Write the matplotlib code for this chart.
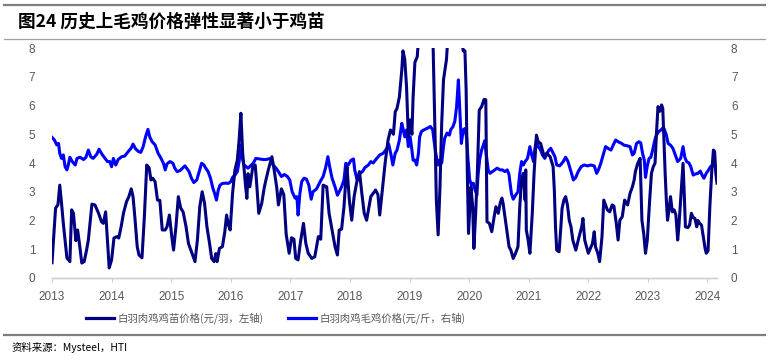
import matplotlib
matplotlib.use("Agg")
import matplotlib.pyplot as plt
from matplotlib.lines import Line2D

# 白羽肉鸡鸡苗价格 (元/羽, 左轴)
chick_years = [
    2013.00, 2013.06, 2013.10, 2013.13, 2013.16, 2013.19, 2013.22, 2013.25, 2013.30, 2013.33,
    2013.36, 2013.40, 2013.43, 2013.46, 2013.50, 2013.54, 2013.58, 2013.61, 2013.67, 2013.72,
    2013.78, 2013.83, 2013.86, 2013.90, 2013.93, 2013.96, 2014.00, 2014.04, 2014.09, 2014.12,
    2014.16, 2014.20, 2014.25, 2014.29, 2014.33, 2014.36, 2014.39, 2014.43, 2014.46, 2014.51,
    2014.55, 2014.59, 2014.63, 2014.66, 2014.69, 2014.73, 2014.77, 2014.81, 2014.85, 2014.90,
    2014.93, 2014.97, 2015.01, 2015.04, 2015.08, 2015.12, 2015.16, 2015.20, 2015.25, 2015.29,
    2015.34, 2015.40, 2015.44, 2015.48, 2015.52, 2015.56, 2015.60, 2015.64, 2015.68, 2015.72,
    2015.75, 2015.77, 2015.81, 2015.86, 2015.90, 2015.93, 2015.96, 2015.99, 2016.03, 2016.07,
    2016.11, 2016.14, 2016.17, 2016.20, 2016.22, 2016.25, 2016.27, 2016.29, 2016.32, 2016.37,
    2016.41, 2016.43, 2016.47, 2016.52, 2016.56, 2016.59, 2016.63, 2016.69, 2016.72, 2016.77,
    2016.80, 2016.85, 2016.89, 2016.93, 2016.98, 2017.02, 2017.06, 2017.09, 2017.13, 2017.17,
    2017.22, 2017.26, 2017.30, 2017.36, 2017.41, 2017.47, 2017.51, 2017.55, 2017.61, 2017.65,
    2017.69, 2017.75, 2017.79, 2017.82, 2017.86, 2017.90, 2017.93, 2017.95, 2017.99, 2018.03,
    2018.07, 2018.11, 2018.16, 2018.20, 2018.24, 2018.28, 2018.35, 2018.43, 2018.47, 2018.50,
    2018.55, 2018.59, 2018.64, 2018.68, 2018.73, 2018.76, 2018.79, 2018.83, 2018.87, 2018.89,
    2018.92, 2018.95, 2018.98, 2019.01, 2019.04, 2019.06, 2019.09, 2019.13, 2019.16, 2019.26,
    2019.39, 2019.43, 2019.45, 2019.48, 2019.51, 2019.54, 2019.57, 2019.62, 2019.65, 2019.76,
    2019.87, 2019.90, 2019.93, 2019.95, 2019.97, 2019.99, 2020.03, 2020.06, 2020.08, 2020.11,
    2020.14, 2020.17, 2020.21, 2020.25, 2020.28, 2020.29, 2020.30, 2020.34, 2020.38, 2020.42,
    2020.45, 2020.49, 2020.52, 2020.55, 2020.57, 2020.61, 2020.64, 2020.67, 2020.70, 2020.74,
    2020.78, 2020.82, 2020.85, 2020.88, 2020.91, 2020.94, 2020.95, 2020.96, 2020.99, 2021.02,
    2021.06, 2021.09, 2021.13, 2021.16, 2021.20, 2021.23, 2021.26, 2021.30, 2021.33, 2021.36,
    2021.41, 2021.43, 2021.45, 2021.47, 2021.51, 2021.54, 2021.56, 2021.59, 2021.62, 2021.65,
    2021.68, 2021.71, 2021.74, 2021.79, 2021.86, 2021.89, 2021.91, 2021.94, 2022.00, 2022.07,
    2022.10, 2022.12, 2022.16, 2022.19, 2022.23, 2022.26, 2022.29, 2022.32, 2022.36, 2022.40,
    2022.43, 2022.47, 2022.50, 2022.53, 2022.57, 2022.61, 2022.66, 2022.70, 2022.74, 2022.77,
    2022.79, 2022.83, 2022.87, 2022.88, 2022.90, 2022.93, 2022.96, 2022.99, 2023.03, 2023.06,
    2023.09, 2023.12, 2023.15, 2023.17, 2023.20, 2023.23, 2023.25, 2023.27, 2023.29, 2023.31,
    2023.33, 2023.35, 2023.38, 2023.41, 2023.44, 2023.47, 2023.50, 2023.52, 2023.55, 2023.58,
    2023.59, 2023.61, 2023.63, 2023.67, 2023.70, 2023.73, 2023.76, 2023.79, 2023.82, 2023.84,
    2023.87, 2023.90, 2023.93, 2023.96, 2023.98, 2024.01, 2024.04, 2024.07, 2024.10, 2024.12,
    2024.14, 2024.16,
]
chick_price = [
    0.53, 2.43, 2.55, 3.23, 2.60, 1.90, 1.30, 0.70, 0.57, 2.37,
    2.25, 1.30, 1.67, 1.20, 0.52, 0.57, 0.97, 1.32, 2.57, 2.54,
    2.26, 1.96, 1.90, 2.30, 1.32, 0.35, 0.63, 1.39, 1.44, 1.39,
    1.78, 2.26, 2.65, 2.83, 3.10, 2.83, 2.13, 1.09, 0.80, 0.70,
    2.13, 3.93, 3.83, 3.41, 3.47, 3.35, 2.71, 2.70, 1.67, 1.67,
    1.78, 2.19, 1.44, 0.97, 1.78, 2.83, 2.43, 2.30, 1.78, 1.20,
    0.91, 0.57, 1.32, 2.48, 3.00, 2.60, 1.78, 1.26, 0.68, 0.57,
    0.85, 0.57, 1.03, 1.09, 1.61, 2.19, 1.85, 1.67, 2.94, 3.76,
    4.10, 4.80, 5.73, 4.34, 3.87, 3.17, 2.77, 3.63, 3.17, 3.87,
    3.93, 3.41, 2.25, 2.60, 3.12, 3.41, 3.76, 4.22, 3.87, 3.17,
    2.54, 3.10, 2.90, 1.52, 0.86, 1.40, 1.35, 0.68, 0.63, 1.26,
    1.90, 1.20, 0.86, 0.68, 0.74, 1.44, 1.35, 3.23, 3.17, 2.25,
    1.78, 1.09, 0.80, 1.67, 1.70, 2.48, 3.41, 3.87, 2.71, 2.01,
    2.83, 3.29, 3.70, 2.94, 2.25, 2.01, 2.83, 3.06, 2.90, 2.19,
    3.17, 3.99, 4.80, 5.15, 5.00, 5.78, 5.90, 6.30, 7.23, 7.90,
    7.60, 6.65, 4.91, 5.50, 5.00, 6.30, 7.50, 7.70, 8.60, 10.0,
    8.60, 4.80, 2.71, 1.50, 3.10, 5.38, 6.89, 7.60, 8.60, 10.0,
    8.60, 7.90, 7.90, 6.54, 3.64, 1.55, 3.17, 2.48, 1.03, 2.25,
    3.76, 5.84, 5.96, 6.21, 6.20, 4.22, 1.96, 1.90, 1.61, 2.13,
    2.48, 2.25, 2.60, 2.78, 2.60, 2.01, 1.55, 1.09, 0.97, 0.68,
    0.86, 1.09, 2.48, 3.41, 3.64, 2.71, 3.76, 1.67, 1.32, 0.86,
    2.25, 3.64, 4.97, 4.74, 4.68, 4.45, 4.22, 4.34, 4.28, 4.22,
    3.87, 3.06, 1.78, 0.97, 0.91, 1.78, 2.42, 2.71, 2.83, 2.54,
    2.01, 1.78, 1.32, 0.97, 1.55, 1.78, 2.07, 1.32, 0.86, 1.20,
    1.61, 1.09, 0.86, 0.57, 1.44, 2.71, 2.54, 2.37, 2.30, 2.54,
    2.50, 1.90, 1.32, 2.01, 2.13, 2.71, 2.54, 2.94, 3.17, 3.41,
    3.70, 3.99, 4.16, 3.41, 2.01, 1.55, 0.86, 1.32, 2.71, 3.64,
    3.87, 3.99, 5.26, 5.96, 5.80, 6.02, 5.90, 4.80, 3.64, 2.71,
    2.01, 2.30, 2.83, 2.30, 2.37, 2.20, 1.32, 1.78, 2.71, 3.64,
    3.99, 2.94, 1.78, 1.75, 1.84, 2.25, 2.10, 2.07, 1.78, 2.00,
    1.90, 1.84, 1.44, 1.03, 0.86, 0.95, 2.48, 3.64, 4.45, 4.40,
    3.64, 3.30,
]

# 白羽肉鸡毛鸡价格 (元/斤, 右轴)
broiler_years = [
    2013.00, 2013.04, 2013.08, 2013.11, 2013.13, 2013.16, 2013.19, 2013.22, 2013.25, 2013.27,
    2013.30, 2013.34, 2013.39, 2013.42, 2013.47, 2013.53, 2013.57, 2013.61, 2013.65, 2013.69,
    2013.75, 2013.79, 2013.84, 2013.89, 2013.93, 2013.97, 2014.00, 2014.03, 2014.07, 2014.11,
    2014.17, 2014.22, 2014.28, 2014.33, 2014.36, 2014.40, 2014.45, 2014.49, 2014.53, 2014.57,
    2014.61, 2014.64, 2014.68, 2014.73, 2014.78, 2014.83, 2014.87, 2014.90, 2014.93, 2014.98,
    2015.03, 2015.06, 2015.10, 2015.15, 2015.19, 2015.23, 2015.26, 2015.30, 2015.34, 2015.38,
    2015.43, 2015.47, 2015.51, 2015.55, 2015.58, 2015.62, 2015.66, 2015.70, 2015.73, 2015.76,
    2015.79, 2015.82, 2015.86, 2015.92, 2015.96, 2016.00, 2016.03, 2016.07, 2016.11, 2016.14,
    2016.17, 2016.19, 2016.22, 2016.26, 2016.29, 2016.33, 2016.38, 2016.42, 2016.48, 2016.55,
    2016.59, 2016.63, 2016.67, 2016.71, 2016.76, 2016.80, 2016.85, 2016.90, 2016.95, 2016.99,
    2017.03, 2017.08, 2017.11, 2017.13, 2017.16, 2017.19, 2017.23, 2017.27, 2017.31, 2017.35,
    2017.38, 2017.44, 2017.50, 2017.55, 2017.59, 2017.63, 2017.66, 2017.70, 2017.75, 2017.79,
    2017.82, 2017.86, 2017.90, 2017.93, 2017.97, 2018.02, 2018.06, 2018.08, 2018.12, 2018.17,
    2018.21, 2018.25, 2018.31, 2018.35, 2018.39, 2018.45, 2018.50, 2018.56, 2018.62, 2018.65,
    2018.69, 2018.72, 2018.76, 2018.79, 2018.83, 2018.87, 2018.89, 2018.92, 2018.95, 2018.98,
    2019.01, 2019.04, 2019.06, 2019.09, 2019.12, 2019.15, 2019.17, 2019.20, 2019.24, 2019.28,
    2019.31, 2019.35, 2019.39, 2019.41, 2019.44, 2019.48, 2019.51, 2019.54, 2019.57, 2019.59,
    2019.63, 2019.67, 2019.69, 2019.73, 2019.76, 2019.79, 2019.82, 2019.85, 2019.87, 2019.90,
    2019.93, 2019.96, 2019.98, 2020.01, 2020.04, 2020.07, 2020.10, 2020.13, 2020.15, 2020.18,
    2020.21, 2020.24, 2020.26, 2020.29, 2020.32, 2020.35, 2020.39, 2020.43, 2020.47, 2020.52,
    2020.56, 2020.60, 2020.64, 2020.67, 2020.68, 2020.71, 2020.74, 2020.78, 2020.82, 2020.85,
    2020.88, 2020.91, 2020.94, 2020.98, 2021.02, 2021.05, 2021.08, 2021.10, 2021.13, 2021.16,
    2021.20, 2021.23, 2021.27, 2021.31, 2021.34, 2021.37, 2021.41, 2021.44, 2021.47, 2021.52,
    2021.58, 2021.62, 2021.66, 2021.71, 2021.75, 2021.79, 2021.83, 2021.88, 2021.93, 2021.99,
    2022.04, 2022.10, 2022.14, 2022.17, 2022.21, 2022.25, 2022.29, 2022.33, 2022.38, 2022.42,
    2022.46, 2022.50, 2022.56, 2022.60, 2022.65, 2022.70, 2022.74, 2022.77, 2022.81, 2022.85,
    2022.88, 2022.91, 2022.94, 2022.96, 2022.99, 2023.02, 2023.05, 2023.08, 2023.11, 2023.13,
    2023.18, 2023.22, 2023.26, 2023.28, 2023.31, 2023.34, 2023.38, 2023.42, 2023.46, 2023.50,
    2023.55, 2023.59, 2023.62, 2023.65, 2023.69, 2023.72, 2023.76, 2023.80, 2023.84, 2023.88,
    2023.91, 2023.94, 2023.98, 2024.02, 2024.05, 2024.09, 2024.12, 2024.15,
]
broiler_price = [
    4.89, 4.80, 4.63, 4.68, 4.34, 4.16, 4.28, 3.87, 3.76, 3.90,
    4.20, 4.05, 3.93, 4.16, 4.20, 4.12, 4.20, 4.45, 4.22, 4.16,
    4.30, 4.48, 4.30, 4.16, 4.05, 4.05, 3.87, 4.16, 3.93, 4.12,
    4.22, 4.24, 4.40, 4.52, 4.66, 4.50, 4.40, 4.37, 4.57, 4.91,
    5.17, 4.91, 4.74, 4.63, 4.34, 4.16, 3.99, 3.76, 3.97, 4.05,
    3.99, 3.82, 3.70, 3.74, 3.82, 3.90, 3.82, 3.70, 3.47, 3.32,
    3.41, 3.70, 3.99, 3.93, 3.82, 3.70, 3.47, 3.12, 2.94, 2.71,
    3.06, 3.23, 3.29, 3.30, 3.29, 3.35, 3.50, 3.58, 3.70, 4.05,
    4.63, 4.22, 3.93, 3.87, 3.82, 3.90, 4.00, 4.16, 4.14, 4.12,
    4.12, 4.14, 4.16, 3.93, 3.82, 3.70, 3.53, 3.60, 3.53, 3.41,
    3.00, 2.78, 2.83, 2.19, 2.94, 3.35, 3.47, 3.44, 3.23, 2.74,
    3.00, 3.10, 3.35, 3.53, 3.82, 4.22, 3.87, 3.47, 3.17, 2.88,
    3.00, 3.17, 3.41, 3.99, 3.93, 4.10, 4.14, 3.76, 3.41, 3.64,
    3.70, 3.84, 3.93, 4.05, 4.00, 4.16, 4.28, 4.34, 4.51, 4.66,
    4.28, 3.93, 4.34, 4.45, 4.80, 5.38, 5.20, 4.91, 5.15, 4.57,
    4.91, 4.45, 4.10, 4.10, 3.93, 4.34, 4.91, 5.10, 5.15, 5.19,
    5.22, 5.27, 5.15, 4.80, 4.34, 3.93, 4.10, 4.00, 4.57, 4.86,
    5.04, 4.97, 5.15, 5.27, 5.45, 5.96, 6.89, 5.61, 4.68, 5.15,
    5.20, 4.86, 4.16, 3.41, 3.23, 3.30, 3.06, 2.88, 3.58, 4.16,
    4.45, 4.63, 4.77, 4.28, 3.76, 3.64, 3.70, 3.76, 3.82, 3.76,
    3.76, 3.70, 3.76, 3.60, 3.41, 2.94, 2.74, 2.88, 3.00, 3.64,
    4.05, 3.93, 4.05, 4.16, 4.57, 4.28, 4.05, 4.45, 4.80, 4.57,
    4.45, 4.28, 4.16, 4.34, 4.45, 4.51, 4.34, 4.22, 3.93, 3.90,
    4.05, 4.20, 4.05, 3.70, 3.41, 3.50, 3.70, 3.87, 3.93, 3.90,
    3.93, 3.90, 3.64, 3.76, 3.99, 4.28, 4.57, 4.51, 4.45, 4.63,
    4.80, 4.74, 4.68, 4.62, 4.60, 4.57, 4.28, 4.34, 4.68, 4.74,
    4.70, 4.34, 4.10, 3.50, 3.90, 4.16, 4.20, 4.45, 4.74, 4.91,
    5.09, 5.15, 5.24, 5.15, 4.97, 4.68, 4.62, 4.51, 4.28, 4.05,
    4.16, 4.57, 4.20, 4.05, 4.00, 3.87, 3.58, 3.62, 3.64, 3.72,
    3.58, 3.47, 3.64, 3.76, 3.87, 3.93, 3.90, 3.76,
]

year_ticks = list(range(2013, 2025))
value_ticks = list(range(0, 9))

title_text = "图24 历史上毛鸡价格弹性显著小于鸡苗"
chick_label = "白羽肉鸡鸡苗价格(元/羽，左轴)"
broiler_label = "白羽肉鸡毛鸡价格(元/斤，右轴)"
source_text = "资料来源：Mysteel，HTI"

cjk = ["Noto Sans CJK SC", "DejaVu Sans"]
num_font = ["Liberation Sans", "DejaVu Sans"]
tick_grey = "#595959"
navy = "#000080"
blue = "#0000FF"

fig = plt.figure(figsize=(7.69, 3.60), dpi=100)
ax = fig.add_axes([52 / 769, 1 - 278 / 360, (717 - 52) / 769, (278 - 48) / 360])
ax2 = ax.twinx()

ax.plot(chick_years, chick_price, color=navy, lw=2.2, solid_joinstyle="round", zorder=3)
ax2.plot(broiler_years, broiler_price, color=blue, lw=2.2, solid_joinstyle="round", zorder=2)
ax.set_zorder(ax2.get_zorder() + 1)
ax.patch.set_visible(False)

for a in (ax, ax2):
    a.set_xlim(2013, 2024.16)
    a.set_ylim(0, 8)
    a.set_yticks(value_ticks)
    for s in ("top", "left", "right"):
        a.spines[s].set_visible(False)
    a.spines["bottom"].set_color("#d0d0d0")
    a.spines["bottom"].set_linewidth(1.0)

ax.set_xticks(year_ticks)
ax.set_xticklabels([str(y) for y in year_ticks], fontsize=8.5, color=tick_grey, family=num_font)
ax.tick_params(axis="x", length=3, color="#d0d0d0", pad=6)
ax.tick_params(axis="y", length=0, pad=12)
ax2.tick_params(axis="y", length=0, pad=10)
ax2.tick_params(axis="x", length=0)
for lab in ax.get_yticklabels() + ax2.get_yticklabels():
    lab.set_fontsize(8.5)
    lab.set_color(tick_grey)
    lab.set_family(num_font)

# title and rules
fig.text(18 / 769, 1 - 22 / 360, title_text, fontsize=12.7, fontweight="bold",
         family=cjk, va="center", ha="left")
fig.add_artist(Line2D([0.005, 0.995], [1 - 5 / 360, 1 - 5 / 360], color="#7f7f7f", lw=1.6))
fig.add_artist(Line2D([0.005, 0.995], [1 - 38.5 / 360, 1 - 38.5 / 360], color="#9f9f9f", lw=0.9))
fig.add_artist(Line2D([0.005, 0.995], [1 - 335 / 360, 1 - 335 / 360], color="#7f7f7f", lw=1.6))

handles = [Line2D([], [], color=navy, lw=2.3), Line2D([], [], color=blue, lw=2.3)]
leg = fig.legend(handles, [chick_label, broiler_label], loc="center left",
                 bbox_to_anchor=(86 / 769, 1 - 318 / 360), ncol=2, frameon=False,
                 prop={"family": cjk, "size": 7.5}, handlelength=2.7, handletextpad=0.3,
                 columnspacing=2.4, borderpad=0, borderaxespad=0)
for t in leg.get_texts():
    t.set_color(tick_grey)

fig.text(12 / 769, 1 - 347 / 360, source_text, fontsize=7.5, family=cjk, va="center", ha="left")

fig.savefig("out.png", dpi=100)
